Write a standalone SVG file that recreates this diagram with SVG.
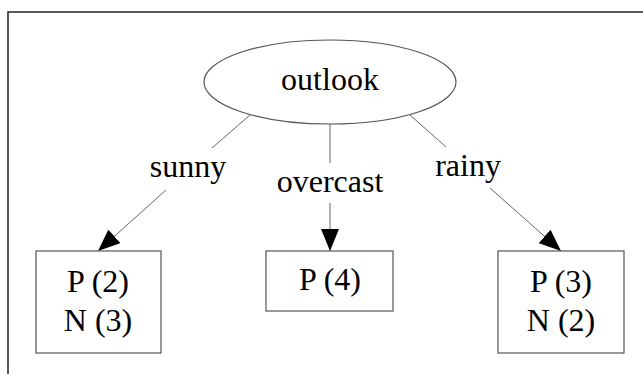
<svg xmlns="http://www.w3.org/2000/svg" width="643" height="374" viewBox="0 0 643 374">
  <style>
    .frame { fill: #ffffff; stroke: #222222; stroke-width: 1.5; }
    .node { fill: #ffffff; stroke: #555555; stroke-width: 1.2; }
    .edge { fill: none; stroke: #666666; stroke-width: 1; }
    .label { font-family: "Liberation Serif", "Times New Roman", serif; font-size: 32px; fill: #000000; text-anchor: middle; }
  </style>
  <defs>
    <marker id="arrow" viewBox="0 0 22 18" refX="22" refY="9" markerWidth="22" markerHeight="18" markerUnits="userSpaceOnUse" orient="auto">
      <path d="M0,0 L22,9 L0,18 Z" fill="#000000"/>
    </marker>
  </defs>

  <rect class="frame" x="8" y="12" width="700" height="400"/>

  <g id="connectors">
    <!-- outlook -> sunny leaf -->
    <line class="edge" x1="250" y1="115" x2="212" y2="148"/>
    <line class="edge" x1="166" y1="190" x2="98" y2="251" marker-end="url(#arrow)"/>
    <text class="label" x="188" y="177">sunny</text>
    <!-- outlook -> overcast leaf -->
    <line class="edge" x1="330" y1="124" x2="330" y2="163"/>
    <line class="edge" x1="330" y1="203" x2="330" y2="251" marker-end="url(#arrow)"/>
    <text class="label" x="330" y="192">overcast</text>
    <!-- outlook -> rainy leaf -->
    <line class="edge" x1="410" y1="115" x2="446" y2="147"/>
    <line class="edge" x1="490" y1="188" x2="561" y2="251" marker-end="url(#arrow)"/>
    <text class="label" x="468" y="176">rainy</text>
  </g>

  <g id="outlook">
    <ellipse class="node" cx="330" cy="82" rx="126" ry="42"/>
    <text class="label" x="330" y="90">outlook</text>
  </g>

  <g id="sunny-leaf">
    <rect class="node" x="36" y="251" width="125" height="102"/>
    <text class="label" x="98" y="292">P (2)</text>
    <text class="label" x="98" y="331">N (3)</text>
  </g>

  <g id="overcast-leaf">
    <rect class="node" x="266" y="251" width="127" height="60"/>
    <text class="label" x="330" y="290">P (4)</text>
  </g>

  <g id="rainy-leaf">
    <rect class="node" x="498" y="251" width="126" height="102"/>
    <text class="label" x="561" y="292">P (3)</text>
    <text class="label" x="561" y="331">N (2)</text>
  </g>
</svg>
